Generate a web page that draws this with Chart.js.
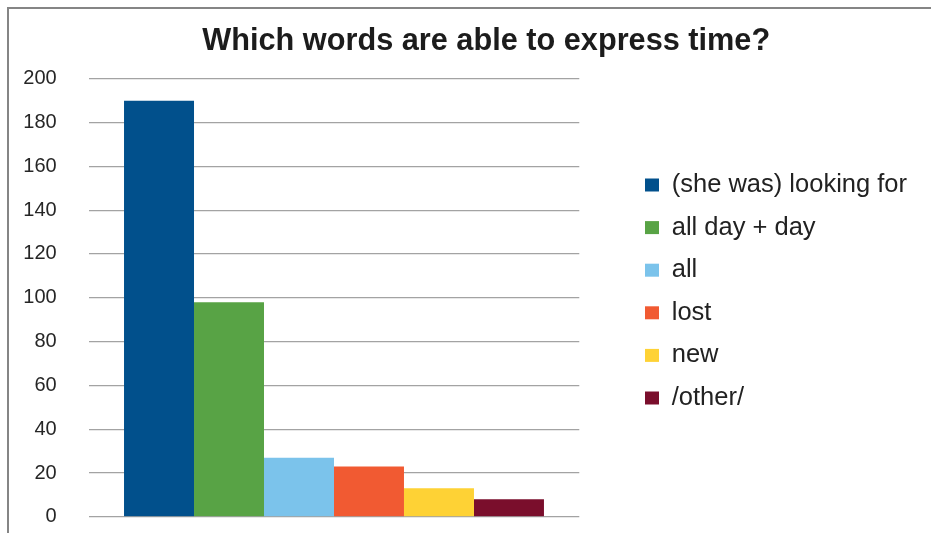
<!DOCTYPE html>
<html>
<head>
<meta charset="utf-8">
<title>Which words are able to express time?</title>
<script src="https://cdn.jsdelivr.net/npm/chart.js@4.4.1/dist/chart.umd.min.js"></script>
<style>
  html, body { margin: 0; padding: 0; overflow: hidden; background: #ffffff; width: 931px; height: 533px; }
  #wrap { position: relative; width: 931px; height: 533px; overflow: hidden; }
  #chart { position: absolute; left: 0; top: 0; }
  #frame {
    position: absolute; left: 7px; top: 7px; width: 1200px; height: 900px;
    border-left: 2px solid #858585; border-top: 2px solid #858585;
    pointer-events: none;
  }
</style>
</head>
<body>
<div id="wrap">
  <canvas id="chart" width="931" height="583"></canvas>
  <div id="frame"></div>
</div>
<script>
// Answers to the question and how many times each was given
const answers = ['(she was) looking for', 'all day + day', 'all', 'lost', 'new', '/other/'];
const counts = [190, 98, 27, 23, 13, 8];
const palette = ['#01508C', '#58A345', '#7BC3EB', '#F15A32', '#FED235', '#7A0E2C'];

const chartTitle = 'Which words are able to express time?';
const yMin = 0;
const yMax = 200;
const yStep = 20;

const FONT = '"Liberation Sans", Arial, Helvetica, sans-serif';
const TICK_SIZE = 20;

// Value labels sit right-aligned 32px left of the plot; measure the widest one
const probe = document.createElement('canvas').getContext('2d');
probe.font = TICK_SIZE + 'px ' + FONT;
let widestTick = 0;
for (let v = yMin; v <= yMax; v += yStep) {
  widestTick = Math.max(widestTick, probe.measureText(String(v)).width);
}

// one bar per answer, all sharing a single unlabeled category
const datasets = answers.map((name, i) => ({
  label: name,
  data: [counts[i]],
  backgroundColor: palette[i],
  borderWidth: 0,
  categoryPercentage: 0.856,
  barPercentage: 1.0
}));

new Chart(document.getElementById('chart'), {
  type: 'bar',
  data: { labels: [''], datasets },
  options: {
    responsive: false,
    animation: false,
    layout: { padding: { left: 55.4, right: 14, top: 0, bottom: 0 } },
    plugins: {
      title: {
        display: true,
        text: chartTitle,
        color: '#1c1c1c',
        font: { family: FONT, size: 30.7, weight: 'bold' },
        padding: { top: 23, bottom: 18.9 }
      },
      legend: {
        display: true,
        position: 'right',
        maxWidth: 400,
        labels: {
          color: '#222222',
          font: { family: FONT, size: 25.5 },
          boxWidth: 14,
          boxHeight: 13,
          padding: 17.1
        }
      },
      tooltip: { enabled: false }
    },
    scales: {
      x: {
        display: true,
        grid: { display: false, drawTicks: false },
        border: { display: false },
        ticks: { display: false },
        afterFit: (scale) => { scale.height = 66.2; }
      },
      y: {
        min: yMin,
        max: yMax,
        grid: { color: '#a3a3a3', lineWidth: 1.3, drawTicks: false },
        border: { display: false },
        ticks: {
          stepSize: yStep,
          mirror: true,
          crossAlign: 'far',
          padding: -32 - widestTick,
          color: '#262626',
          font: { family: FONT, size: TICK_SIZE }
        },
        afterFit: (scale) => { scale.width = 33.3; }
      },
      // empty right-hand scale keeping white space between the plot and the legend
      gap: {
        type: 'linear',
        position: 'right',
        display: true,
        grid: { display: false, drawTicks: false },
        border: { display: false },
        ticks: { display: false },
        afterFit: (scale) => { scale.width = 48.6; }
      }
    }
  }
});
</script>
</body>
</html>
